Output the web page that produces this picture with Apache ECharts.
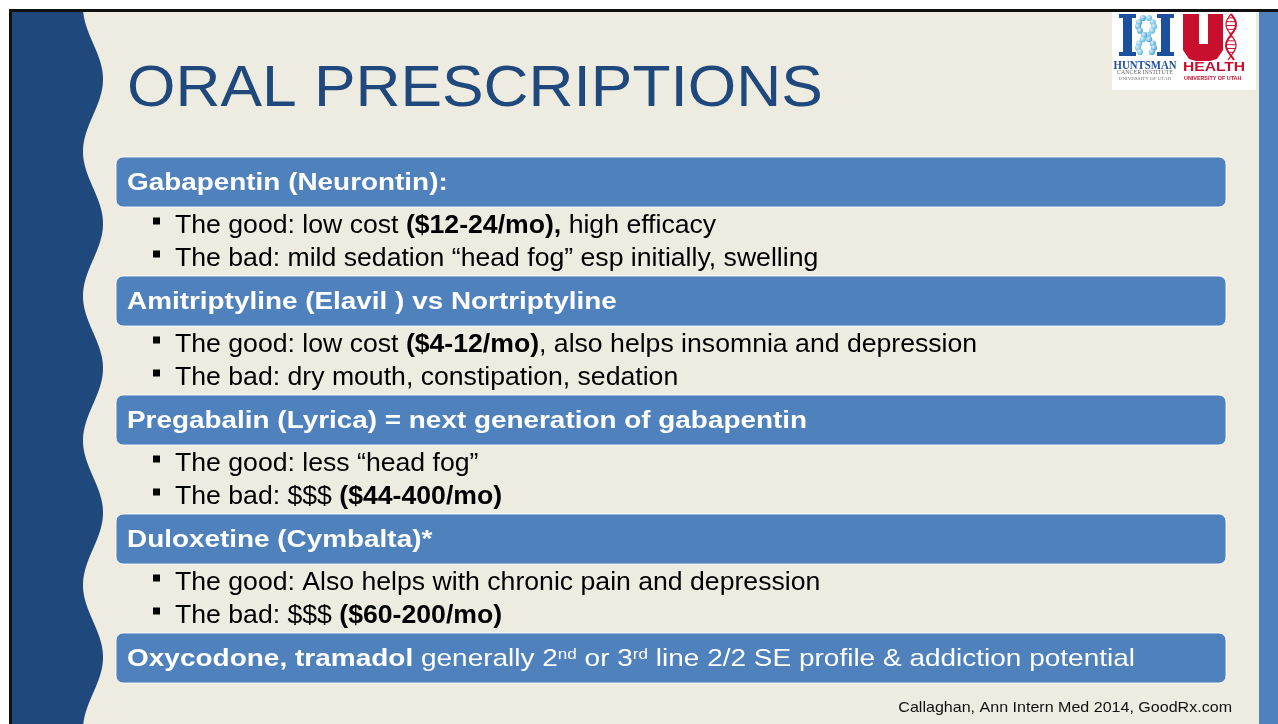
<!DOCTYPE html>
<html><head><meta charset="utf-8">
<script src="https://cdn.jsdelivr.net/npm/echarts@6/dist/echarts.min.js"></script>
<style>html,body{margin:0;padding:0;background:#fff;}#c{width:1278px;height:724px;}</style>
</head><body><div id="c"></div>
<script>
// ---- content ----
const title = 'ORAL PRESCRIPTIONS';
const headings = [
  '{b|Gabapentin (Neurontin):}',
  '{b|Amitriptyline (Elavil ) vs Nortriptyline}',
  '{b|Pregabalin (Lyrica) = next generation of gabapentin}',
  '{b|Duloxetine (Cymbalta)*}',
  '{b|Oxycodone, tramadol} generally 2{s|nd} or 3{s|rd} line 2/2 SE profile & addiction potential'
];
const goodPoints = [
  'The good: low cost {b|($12-24/mo),} high efficacy',
  'The good: low cost {b|($4-12/mo)}, also helps insomnia and depression',
  'The good: less \u201chead fog\u201d',
  'The good: Also helps with chronic pain and depression'
];
const badPoints = [
  'The bad: mild sedation \u201chead fog\u201d esp initially, swelling',
  'The bad: dry mouth, constipation, sedation',
  'The bad: $$$ {b|($44-400/mo)}',
  'The bad: $$$ {b|($60-200/mo)}'
];
const footer = 'Callaghan, Ann Intern Med 2014, GoodRx.com';
const logoLeft = ['HUNTSMAN', 'CANCER INSTITUTE', 'UNIVERSITY OF UTAH'];
const logoRight = ['HEALTH', 'UNIVERSITY OF UTAH'];

// ---- style ----
const FONT = "'Liberation Sans', Arial, sans-serif";
const SERIF = "'Liberation Serif', 'Times New Roman', serif";
const BG = '#EEECE1', DARK = '#1F497D', ACC = '#4F81BD', RED = '#C8102E';

function rich(size, color) {
  return {
    b: {fontFamily: FONT, fontSize: size, fontWeight: 'bold', fill: color},
    s: {fontFamily: FONT, fontSize: 15, fontWeight: 'normal', fill: color, verticalAlign: 'bottom', padding: [0, 0, 9, 0]}
  };
}

const g = [];
// frame
g.push({type: 'rect', shape: {x: 12, y: 12, width: 1266, height: 712}, style: {fill: BG}, silent: true});
// wavy left panel
const wave = [[0, 12]];
for (let y = 12; y <= 724; y += 2) wave.push([93 - 10 * Math.cos(2 * Math.PI * (y - 7) / 144.5), y]);
wave.push([0, 724]);
g.push({type: 'polygon', shape: {points: wave}, style: {fill: DARK}, silent: true});
// white margins + black lines
g.push({type: 'rect', shape: {x: 0, y: 0, width: 1278, height: 9}, style: {fill: '#fff'}});
g.push({type: 'rect', shape: {x: 0, y: 0, width: 9, height: 724}, style: {fill: '#fff'}});
g.push({type: 'rect', shape: {x: 9, y: 9, width: 1269, height: 3}, style: {fill: '#111'}});
g.push({type: 'rect', shape: {x: 9, y: 9, width: 3, height: 715}, style: {fill: '#111'}});
// right strip
g.push({type: 'rect', shape: {x: 1259, y: 12, width: 19, height: 712}, style: {fill: ACC}});

// logo
g.push({type: 'rect', shape: {x: 1112, y: 12, width: 144, height: 78}, style: {fill: '#fff'}});
const HB = '#1D4F9F';
[[1123, 17, 9, 37], [1161, 17, 9, 37], [1119, 14, 17, 4], [1157, 14, 17, 4], [1119, 52, 17, 4], [1157, 52, 17, 4]]
  .forEach(r => g.push({type: 'rect', shape: {x: r[0], y: r[1], width: r[2], height: r[3]}, style: {fill: HB}}));
for (let i = 0; i < 9; i++) {
  const t = i / 8, yy = 18 + t * 34, s = Math.sin(t * Math.PI * 1.6 + 0.4);
  [1146 + 8 * s, 1146 - 8 * s].forEach((xx, k) => g.push({type: 'circle', shape: {cx: xx, cy: yy, r: 3.1},
    style: {fill: new echarts.graphic.RadialGradient(0.35, 0.35, 0.7, [{offset: 0, color: '#d8f0fb'}, {offset: 1, color: k ? '#3f9fd0' : '#5bb5de'}])}}));
}
g.push({type: 'text', x: 1145, y: 66, style: {text: logoLeft[0], fontFamily: SERIF, fontWeight: 'bold', fontSize: 12, fill: HB, align: 'center', verticalAlign: 'middle'}, scaleX: 0.9});
g.push({type: 'text', x: 1145, y: 72.5, style: {text: logoLeft[1], fontFamily: SERIF, fontSize: 7, fill: '#666', align: 'center', verticalAlign: 'middle'}, scaleX: 0.85});
g.push({type: 'text', x: 1145, y: 78.5, style: {text: logoLeft[2], fontFamily: SERIF, fontSize: 5, fill: '#777', align: 'center', verticalAlign: 'middle'}});
// Utah U
g.push({type: 'polygon', shape: {points: [[1183, 14], [1199, 14], [1199, 44], [1208, 44], [1208, 14], [1223, 14], [1223, 50], [1217, 59], [1210, 61], [1196, 61], [1189, 59], [1183, 50]]}, style: {fill: RED}});
const s1 = [], s2 = [];
for (let i = 0; i <= 24; i++) { const t = i / 24, yy = 14 + t * 46; s1.push([1231 + 5 * Math.sin(t * Math.PI * 2.2), yy]); s2.push([1231 - 5 * Math.sin(t * Math.PI * 2.2), yy]); }
g.push({type: 'polyline', shape: {points: s1}, style: {stroke: RED, lineWidth: 2, fill: null}});
g.push({type: 'polyline', shape: {points: s2}, style: {stroke: RED, lineWidth: 1.2, fill: null}});
for (let i = 1; i < 12; i++) { const a = s1[i * 2], b = s2[i * 2]; g.push({type: 'line', shape: {x1: a[0], y1: a[1], x2: b[0], y2: b[1]}, style: {stroke: RED, lineWidth: 1}}); }
g.push({type: 'text', x: 1183, y: 67, style: {text: logoRight[0], fontFamily: FONT, fontWeight: 'bold', fontSize: 13, fill: RED, verticalAlign: 'middle'}, scaleX: 1.2});
g.push({type: 'text', x: 1184, y: 79, style: {text: logoRight[1], fontFamily: FONT, fontWeight: 'bold', fontSize: 5.4, fill: RED, verticalAlign: 'middle'}});

// title
g.push({type: 'text', x: 127, y: 90, scaleX: 1.074,
  style: {text: title, fontFamily: FONT, fontSize: 58, fill: DARK, verticalAlign: 'middle'}});

// heading bars and bullets
headings.forEach((h, i) => {
  const top = 157 + i * 119;
  g.push({type: 'rect', shape: {x: 116, y: top, width: 1110, height: 50, r: 7},
    style: {fill: ACC, stroke: 'rgba(255,255,255,0.85)', lineWidth: 1}});
  g.push({type: 'text', x: 127, y: top + 26, scaleX: i === 4 ? 1.138 : 1.134,
    style: {text: h, fontFamily: FONT, fontSize: 24.6, fill: '#fff', verticalAlign: 'middle', rich: rich(24.6, '#fff')}});
  if (i < goodPoints.length) {
    [goodPoints[i], badPoints[i]].forEach((t, j) => {
      const yy = top + 67 + j * 33;
      g.push({type: 'rect', shape: {x: 153, y: yy - 6.5, width: 7, height: 7}, style: {fill: '#000'}});
      g.push({type: 'text', x: 175, y: yy + 2, scaleX: 1.065,
        style: {text: t, fontFamily: FONT, fontSize: 25, fill: '#000', verticalAlign: 'middle', rich: rich(25, '#000')}});
    });
  }
});

// footer
g.push({type: 'text', x: 1232, y: 708, scaleX: 1.07,
  style: {text: footer, fontFamily: FONT, fontSize: 15, fill: '#111', align: 'right', verticalAlign: 'middle'}});

const chart = echarts.init(document.getElementById('c'));
chart.setOption({backgroundColor: '#fff', animation: false, graphic: g});
</script></body></html>
